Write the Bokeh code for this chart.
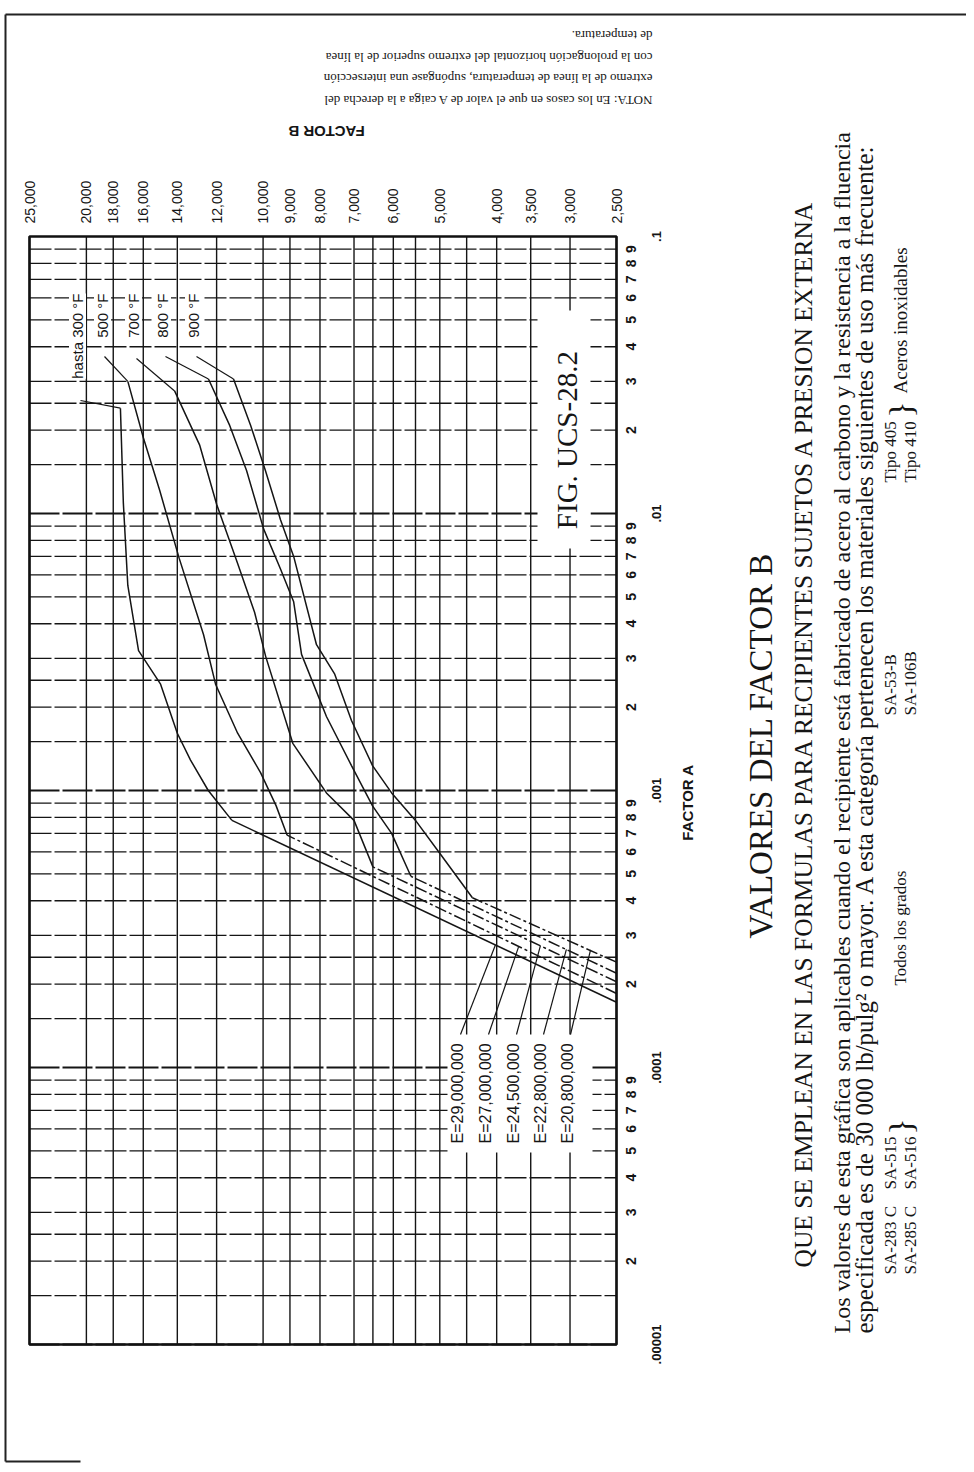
import math
from bokeh.plotting import figure
from bokeh.models import Range1d, Label
from bokeh.embed import file_html
from bokeh.resources import INLINE

# ---------------- data ----------------
b_ticks = [25000, 20000, 18000, 16000, 14000, 12000, 10000, 9000, 8000, 7000, 6000, 5000, 4000, 3500, 3000, 2500]
b_tick_labels = ["25,000", "20,000", "18,000", "16,000", "14,000", "12,000", "10,000", "9,000", "8,000",
                 "7,000", "6,000", "5,000", "4,000", "3,500", "3,000", "2,500"]
b_grid = [25000, 20000, 18000, 16000, 14000, 12000, 10000, 9000, 8000, 7000, 6500, 6000, 5500, 5000,
          4500, 4000, 3500, 3000, 2500]
a_decades = [1e-5, 1e-4, 1e-3, 1e-2, 1e-1]
a_decade_labels = [".00001", ".0001", ".001", ".01", ".1"]
a_digits = [2, 3, 4, 5, 6, 7, 8, 9]
a_grid_mult = [1, 1.5, 2, 2.5, 3, 4, 5, 6, 7, 8, 9]

temp_labels = ["hasta 300 °F", "500 °F", "700 °F", "800 °F", "900 °F"]
e_labels = ["E=29,000,000", "E=27,000,000", "E=24,500,000", "E=22,800,000", "E=20,800,000"]

# curves: Factor A (vertical) vs Factor B (horizontal); first two points = straight E line
t300_A = [1.72e-4, 7.8e-4, 1.0e-3, 1.29e-3, 1.61e-3, 2.42e-3, 3.2e-3, 5.5e-3, 1.09e-2, 2.4e-2]
t300_B = [2500, 11300, 12400, 13300, 14000, 14950, 16300, 17000, 17300, 17500]
t500_A = [1.85e-4, 6.9e-4, 8.8e-4, 1.16e-3, 1.61e-3, 2.42e-3, 3.65e-3, 6.9e-3, 1.21e-2, 1.88e-2, 3.0e-2]
t500_B = [2500, 9100, 9500, 10100, 11050, 12050, 12630, 13900, 15000, 16000, 17000]
t700_A = [2.04e-4, 5.3e-4, 7.8e-4, 9.8e-4, 1.48e-3, 3.05e-3, 4.4e-3, 6.6e-3, 1.08e-2, 1.77e-2, 2.77e-2]
t700_B = [2500, 6500, 7000, 7800, 8900, 9900, 10340, 11050, 12000, 12830, 14150]
t800_A = [2.19e-4, 4.9e-4, 7.0e-4, 8.8e-4, 1.23e-3, 1.85e-3, 3.1e-3, 4.8e-3, 6.3e-3, 8.8e-3, 1.43e-2, 2.08e-2, 3.06e-2]
t800_B = [2500, 5600, 6040, 6510, 7070, 7800, 8600, 8870, 9340, 9980, 10670, 11400, 12390]
t900_A = [2.40e-4, 4.1e-4, 5.9e-4, 7.8e-4, 9.8e-4, 1.23e-3, 1.79e-3, 2.63e-3, 3.36e-3, 7.0e-3, 9.5e-3, 1.43e-2, 2.08e-2, 3.06e-2]
t900_B = [2500, 4400, 4990, 5500, 6040, 6510, 7070, 7550, 8110, 8870, 9340, 9910, 10500, 11230]
curves_A = [t300_A, t500_A, t700_A, t800_A, t900_A]
curves_B = [t300_B, t500_B, t700_B, t800_B, t900_B]

# where the E-label pointers touch the straight lines
e_tip_B = [4020, 3672, 3370, 3043, 2768]
e_tip_A = [2.77e-4, 2.72e-4, 2.75e-4, 2.67e-4, 2.66e-4]

nota_lines = ["NOTA: En los casos en que el valor de A caiga a la derecha del",
              "extremo de la línea de temperatura, supóngase una intersección",
              "con la prolongación horizontal del extremo superior de la línea",
              "de temperatura."]

# ---------------- page geometry (page pixels) ----------------
W, H = 966, 1464                        # canvas
FR_L, FR_R, FR_T, FR_B = 29, 616, 236, 1344   # chart grid box
LB0, LB1 = math.log10(25000), math.log10(2500)
LA0, LA1 = math.log10(0.1), math.log10(1e-5)


def bx(px):
    return 10 ** (LB0 + (px - FR_L) / (FR_R - FR_L) * (LB1 - LB0))


def ay(py):
    return 10 ** (LA0 + (py - FR_T) / (FR_B - FR_T) * (LA1 - LA0))


p = figure(width=W, height=H, title=None, min_border=0,
           x_axis_type="log", y_axis_type="log",
           x_range=Range1d(bx(0), bx(W)), y_range=Range1d(ay(H), ay(0)),
           x_axis_location=None, y_axis_location=None,
           toolbar_location=None, output_backend="svg",
           background_fill_color="white", border_fill_color="white",
           outline_line_color=None)
p.xgrid.visible = False
p.ygrid.visible = False

INK = "#151515"
SANS = "Liberation Sans"
SERIF = "Liberation Serif"


def lab(text, x, y, size, font=SERIF, angle=math.pi / 2, align="left", style="normal", bg=None):
    p.add_layout(Label(x=x, y=y, text=text, angle=angle, text_align=align,
                       text_baseline="middle", text_font=font, text_font_size=f"{size}px",
                       text_font_style=style, text_color=INK, background_fill_color=bg))


# ---------------- grid ----------------
n = len(b_grid)
p.segment(x0=b_grid, x1=b_grid, y0=[1e-5] * n, y1=[0.1] * n, line_color=INK, line_width=1.4)
a_grid = [d * m for d in a_decades[:-1] for m in a_grid_mult]
a_major = [a for a in a_grid if a in a_decades]
a_minor = [a for a in a_grid if a not in a_decades]
p.segment(x0=[25000] * len(a_minor), x1=[2500] * len(a_minor), y0=a_minor, y1=a_minor,
          line_color=INK, line_width=1.3, line_dash="22 3")
p.segment(x0=[25000] * len(a_major), x1=[2500] * len(a_major), y0=a_major, y1=a_major,
          line_color=INK, line_width=2.0, line_dash="30 3")

# white label boxes inside the grid
p.quad(left=[bx(537)], right=[bx(590)], top=[ay(310)], bottom=[ay(548)], fill_color="white", line_color=None)
p.quad(left=[bx(447)], right=[bx(592)], top=[ay(1034)], bottom=[ay(1152)], fill_color="white", line_color=None)

# ---------------- curves ----------------
for i, (A, B) in enumerate(zip(curves_A, curves_B)):
    dash = "solid" if i == 0 else "12 3 3 3"
    p.line(B[:2], A[:2], line_color=INK, line_width=1.5, line_dash=dash)
    p.line(B[1:], A[1:], line_color=INK, line_width=1.5)

# grid border
p.quad(left=[25000], right=[2500], top=[0.1], bottom=[1e-5], fill_color=None,
       line_color="#111111", line_width=2.6)

# ---------------- tick labels ----------------
for t, l in zip(b_ticks, b_tick_labels):
    lab(l, t, ay(223), 14, font=SANS)
for d in a_decades[:-1]:
    for m in a_digits:
        lab(str(m), bx(630), d * m, 14, font=SANS, align="center", style="bold")
for t, l in zip(a_decades, a_decade_labels):
    lab(l, bx(656), t, 13, font=SANS, align="center", style="bold")

# ---------------- temperature labels + leaders ----------------
temp_x = [77, 102, 133, 162, 193]
temp_leader = [(80, 400), (104, 356), (136, 358), (165, 356), (196, 356)]
for txt, x, (lx, ly), A, B in zip(temp_labels, temp_x, temp_leader, curves_A, curves_B):
    lab(txt, bx(x), ay(293), 15, font=SANS, align="right", bg="white")
    p.line([bx(lx), B[-1]], [ay(ly), A[-1]], line_color=INK, line_width=1.2)

# ---------------- E labels + leaders ----------------
e_x = [457, 485, 513, 540, 567]
for txt, x, tb, ta in zip(e_labels, e_x, e_tip_B, e_tip_A):
    lab(txt, bx(x), ay(1143), 16, font=SANS)
    p.line([bx(x + 3), tb], [ay(1034), ta], line_color=INK, line_width=1.2)

# FIG. label
lab("FIG.  UCS-28.2", bx(566), ay(436), 29, align="center")

# axis titles
lab("FACTOR B", bx(326), ay(131), 15, font=SANS, angle=math.pi, align="center", style="bold")
lab("FACTOR A", bx(687), ay(802), 15, font=SANS, align="center", style="bold")

# note (upside down)
for line, yy in zip(nota_lines, [100, 78, 57, 35]):
    lab(line, bx(652), ay(yy), 13, angle=math.pi)

# titles and text at right (reading bottom to top)
lab("VALORES DEL FACTOR B", bx(760), ay(745), 33, align="center")
lab("QUE SE EMPLEAN EN LAS FORMULAS PARA RECIPIENTES SUJETOS A PRESION EXTERNA", bx(803), ay(1267), 25.5)
lab("Los valores de esta gráfica son aplicables cuando el recipiente está fabricado de acero "
    "al carbono y la resistencia a la fluencia", bx(841), ay(1333), 24)
lab("especificada es de 30 000 lb/pulg² o mayor. A esta categoría pertenecen los materiales "
    "siguientes de uso más frecuente:", bx(864), ay(1333), 25)
ROW1, ROW2 = 890, 910
MID = (ROW1 + ROW2) / 2
lab("SA-283 C", bx(ROW1), ay(1274), 17)
lab("SA-285 C", bx(ROW2), ay(1274), 17)
lab("SA-515", bx(ROW1), ay(1189), 17)
lab("SA-516", bx(ROW2), ay(1189), 17)
lab("}", bx(MID), ay(1126), 34, align="center")
lab("Todos los grados", bx(MID), ay(985), 17)
lab("SA-53-B", bx(ROW1), ay(715), 17)
lab("SA-106B", bx(ROW2), ay(715), 17)
lab("Tipo 405", bx(ROW1), ay(482), 17)
lab("Tipo 410", bx(ROW2), ay(482), 17)
lab("}", bx(MID), ay(409), 34, align="center")
lab("Aceros inoxidables", bx(MID), ay(393), 19)

# page border lines
for (x0, y0, x1, y1) in [(5, 14, 966, 14), (5, 14, 5, 1461), (5, 1461, 80, 1461)]:
    p.line([bx(x0), bx(x1)], [ay(y0), ay(y1)], line_color="#222222", line_width=2)

open("out.html", "w").write(file_html(p, INLINE))
